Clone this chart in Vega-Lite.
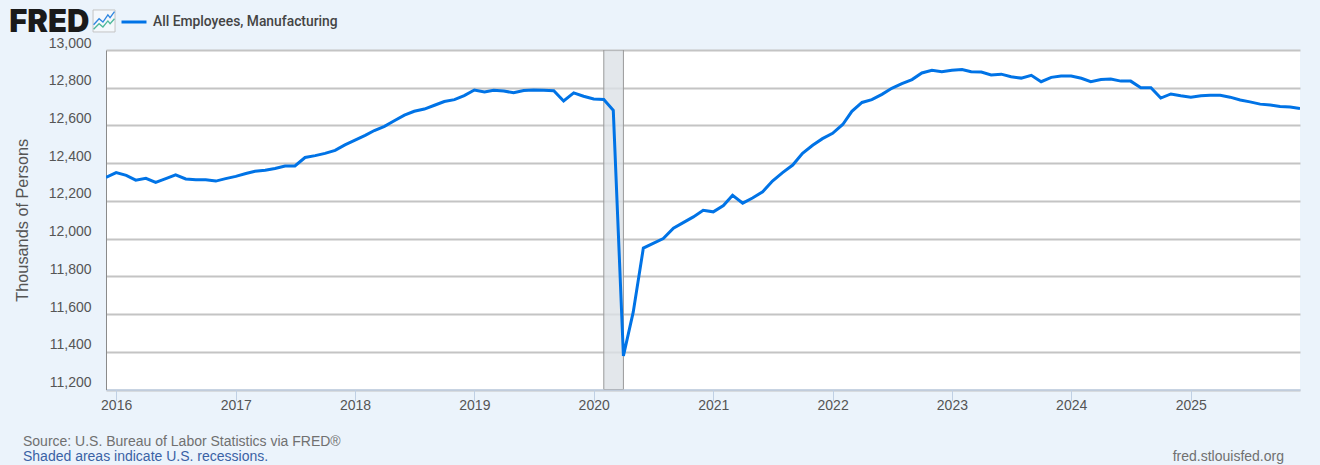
{
"$schema":"https://vega.github.io/schema/vega-lite/v6.json",
"width":1194,"height":339.5,
"autosize":{"type":"none"},
"padding":{"left":106,"top":50,"right":20,"bottom":75.5},
"background":"#EBF3FB",
"config":{"view":{"fill":"#ffffff","stroke":null},"font":"Liberation Sans"},
"datasets":{
"recession":[{"start":"2020-02-01","end":"2020-04-01","lo":11200,"hi":13000}],
"notes":[
{"kind":"source","label":"Source: U.S. Bureau of Labor Statistics via FRED®","date":"2015-03-22","v":10922},
{"kind":"shaded","label":"Shaded areas indicate U.S. recessions.","date":"2015-03-22","v":10842},
{"kind":"site","label":"fred.stlouisfed.org","date":"2025-10-13","v":10842},
{"kind":"logo","label":"FRED","date":"2015-02-08","v":13096}
],
"icon":[{"date":"2015-11-25","v":13154}],
"series":[
{"date":"2015-12-01","value":12325},{"date":"2016-01-01","value":12350},{"date":"2016-02-01","value":12335},{"date":"2016-03-01","value":12310},{"date":"2016-04-01","value":12320},{"date":"2016-05-01","value":12298},{"date":"2016-06-01","value":12318},{"date":"2016-07-01","value":12338},{"date":"2016-08-01","value":12316},{"date":"2016-09-01","value":12312},{"date":"2016-10-01","value":12312},{"date":"2016-11-01","value":12305},{"date":"2016-12-01","value":12318},
{"date":"2017-01-01","value":12330},{"date":"2017-02-01","value":12345},{"date":"2017-03-01","value":12357},{"date":"2017-04-01","value":12363},{"date":"2017-05-01","value":12372},{"date":"2017-06-01","value":12385},{"date":"2017-07-01","value":12385},{"date":"2017-08-01","value":12430},{"date":"2017-09-01","value":12440},{"date":"2017-10-01","value":12452},{"date":"2017-11-01","value":12468},{"date":"2017-12-01","value":12497},
{"date":"2018-01-01","value":12522},{"date":"2018-02-01","value":12547},{"date":"2018-03-01","value":12573},{"date":"2018-04-01","value":12595},{"date":"2018-05-01","value":12625},{"date":"2018-06-01","value":12655},{"date":"2018-07-01","value":12675},{"date":"2018-08-01","value":12687},{"date":"2018-09-01","value":12707},{"date":"2018-10-01","value":12727},{"date":"2018-11-01","value":12737},{"date":"2018-12-01","value":12758},
{"date":"2019-01-01","value":12788},{"date":"2019-02-01","value":12778},{"date":"2019-03-01","value":12787},{"date":"2019-04-01","value":12783},{"date":"2019-05-01","value":12773},{"date":"2019-06-01","value":12785},{"date":"2019-07-01","value":12788},{"date":"2019-08-01","value":12787},{"date":"2019-09-01","value":12784},{"date":"2019-10-01","value":12730},{"date":"2019-11-01","value":12773},{"date":"2019-12-01","value":12755},
{"date":"2020-01-01","value":12740},{"date":"2020-02-01","value":12738},{"date":"2020-03-01","value":12680},{"date":"2020-04-01","value":11378},{"date":"2020-05-01","value":11610},{"date":"2020-06-01","value":11950},{"date":"2020-07-01","value":11975},{"date":"2020-08-01","value":12000},{"date":"2020-09-01","value":12055},{"date":"2020-10-01","value":12085},{"date":"2020-11-01","value":12115},{"date":"2020-12-01","value":12150},
{"date":"2021-01-01","value":12142},{"date":"2021-02-01","value":12175},{"date":"2021-03-01","value":12230},{"date":"2021-04-01","value":12188},{"date":"2021-05-01","value":12215},{"date":"2021-06-01","value":12248},{"date":"2021-07-01","value":12305},{"date":"2021-08-01","value":12350},{"date":"2021-09-01","value":12390},{"date":"2021-10-01","value":12452},{"date":"2021-11-01","value":12495},{"date":"2021-12-01","value":12530},
{"date":"2022-01-01","value":12558},{"date":"2022-02-01","value":12605},{"date":"2022-03-01","value":12675},{"date":"2022-04-01","value":12722},{"date":"2022-05-01","value":12737},{"date":"2022-06-01","value":12765},{"date":"2022-07-01","value":12797},{"date":"2022-08-01","value":12822},{"date":"2022-09-01","value":12843},{"date":"2022-10-01","value":12878},{"date":"2022-11-01","value":12892},{"date":"2022-12-01","value":12885},
{"date":"2023-01-01","value":12893},{"date":"2023-02-01","value":12897},{"date":"2023-03-01","value":12885},{"date":"2023-04-01","value":12883},{"date":"2023-05-01","value":12868},{"date":"2023-06-01","value":12872},{"date":"2023-07-01","value":12858},{"date":"2023-08-01","value":12851},{"date":"2023-09-01","value":12866},{"date":"2023-10-01","value":12832},{"date":"2023-11-01","value":12855},{"date":"2023-12-01","value":12862},
{"date":"2024-01-01","value":12862},{"date":"2024-02-01","value":12850},{"date":"2024-03-01","value":12832},{"date":"2024-04-01","value":12843},{"date":"2024-05-01","value":12846},{"date":"2024-06-01","value":12835},{"date":"2024-07-01","value":12835},{"date":"2024-08-01","value":12800},{"date":"2024-09-01","value":12800},{"date":"2024-10-01","value":12745},{"date":"2024-11-01","value":12767},{"date":"2024-12-01","value":12757},
{"date":"2025-01-01","value":12750},{"date":"2025-02-01","value":12758},{"date":"2025-03-01","value":12760},{"date":"2025-04-01","value":12760},{"date":"2025-05-01","value":12750},{"date":"2025-06-01","value":12735},{"date":"2025-07-01","value":12725},{"date":"2025-08-01","value":12713},{"date":"2025-09-01","value":12708},{"date":"2025-10-01","value":12700},{"date":"2025-11-01","value":12698},{"date":"2025-12-01","value":12690}
]},
"encoding":{
  "x":{"type":"temporal","scale":{"type":"utc","domain":["2015-12-01","2025-12-01"]},
   "title":null,
   "axis":{"format":"%Y","formatType":"utc","tickCount":{"interval":"year","step":1},"grid":false,"domainColor":"#C0CFE3","domainWidth":1.5,"tickColor":"#C0D0E4","tickSize":11,"tickWidth":1,"labelFontSize":14,"labelColor":"#555555","labelFont":"Liberation Sans","labelPadding":-2,"labelFlush":false}},
  "y":{"type":"quantitative","scale":{"domain":[11200,13000],"nice":false,"zero":false},
   "title":"Thousands of Persons",
   "axis":{"values":[11200,11400,11600,11800,12000,12200,12400,12600,12800,13000],"format":",d","grid":true,"gridColor":"#C4C4C4","gridWidth":2,"ticks":false,"domainColor":"#8A8A8A","domainWidth":1,"labelFontSize":14,"labelColor":"#555555","labelFont":"Liberation Sans","labelPadding":15,"labelOffset":-7,"labelOverlap":false,"labelFlush":false,"titleFontSize":16.3,"titleFontWeight":"normal","titleColor":"#555555","titleFont":"Liberation Sans","titlePadding":18}}
},
"layer":[
{"data":{"name":"recession"},
 "mark":{"type":"rect","fill":"#DCE1E6","fillOpacity":0.8,"stroke":"#999999","strokeWidth":1,"clip":true},
 "encoding":{
  "x":{"field":"start"},
  "x2":{"field":"end"},
  "y":{"field":"lo"},
  "y2":{"field":"hi"}
 }},
{"data":{"name":"series"},
 "mark":{"type":"line","strokeWidth":3,"clip":true},
 "encoding":{
  "x":{"field":"date"},
  "y":{"field":"value"},
  "color":{"datum":"All Employees, Manufacturing","scale":{"range":["#0073E6"]},
   "legend":{"title":null,"orient":"none","legendX":14,"legendY":-42,"symbolType":"stroke","symbolSize":625,"symbolStrokeWidth":3,"labelFont":"Roboto","labelFontSize":13.85,"labelFontWeight":500,"labelColor":"#444444","labelLimit":300,"labelOffset":5}}
 }},
{"data":{"name":"notes"},"transform":[{"filter":"datum.kind=='source'"}],
 "mark":{"type":"text","align":"left","baseline":"middle","fontSize":14,"font":"Liberation Sans","color":"#707070"},
 "encoding":{"x":{"field":"date"},"y":{"field":"v"},"text":{"field":"label"}}},
{"data":{"name":"notes"},"transform":[{"filter":"datum.kind=='shaded'"}],
 "mark":{"type":"text","align":"left","baseline":"middle","fontSize":14,"font":"Liberation Sans","color":"#3A62A5"},
 "encoding":{"x":{"field":"date"},"y":{"field":"v"},"text":{"field":"label"}}},
{"data":{"name":"notes"},"transform":[{"filter":"datum.kind=='site'"}],
 "mark":{"type":"text","align":"right","baseline":"middle","fontSize":14,"font":"Liberation Sans","color":"#707070"},
 "encoding":{"x":{"field":"date"},"y":{"field":"v"},"text":{"field":"label"}}},
{"data":{"name":"notes"},"transform":[{"filter":"datum.kind=='logo'"}],
 "mark":{"type":"text","align":"left","baseline":"alphabetic","fontSize":31,"font":"Inter","fontWeight":900,"color":"#1A1A1A"},
 "encoding":{"x":{"field":"date"},"y":{"field":"v"},"text":{"field":"label"}}},
{"data":{"name":"icon"},
 "mark":{"type":"point","size":484,"filled":false,"stroke":"#C4C4C4","strokeWidth":1,"fill":"#F4F8FC","fillOpacity":1,"opacity":1,"shape":"M-1,-1L1,-1L1,1L-1,1Z"},
 "encoding":{"x":{"field":"date"},"y":{"field":"v"}}},
{"data":{"name":"icon"},
 "mark":{"type":"point","size":484,"filled":false,"stroke":"#4DB89A","strokeWidth":1.3,"opacity":1,"shape":"M-0.95,0.75L-0.45,0.25L-0.1,0.55L0.35,0L0.55,0.25L0.95,-0.2"},
 "encoding":{"x":{"field":"date"},"y":{"field":"v"}}},
{"data":{"name":"icon"},
 "mark":{"type":"point","size":484,"filled":false,"stroke":"#2F86E0","strokeWidth":1.3,"opacity":1,"shape":"M-0.95,0.35L-0.45,-0.2L-0.1,0.1L0.35,-0.55L0.55,-0.3L0.95,-0.85"},
 "encoding":{"x":{"field":"date"},"y":{"field":"v"}}}
]}
